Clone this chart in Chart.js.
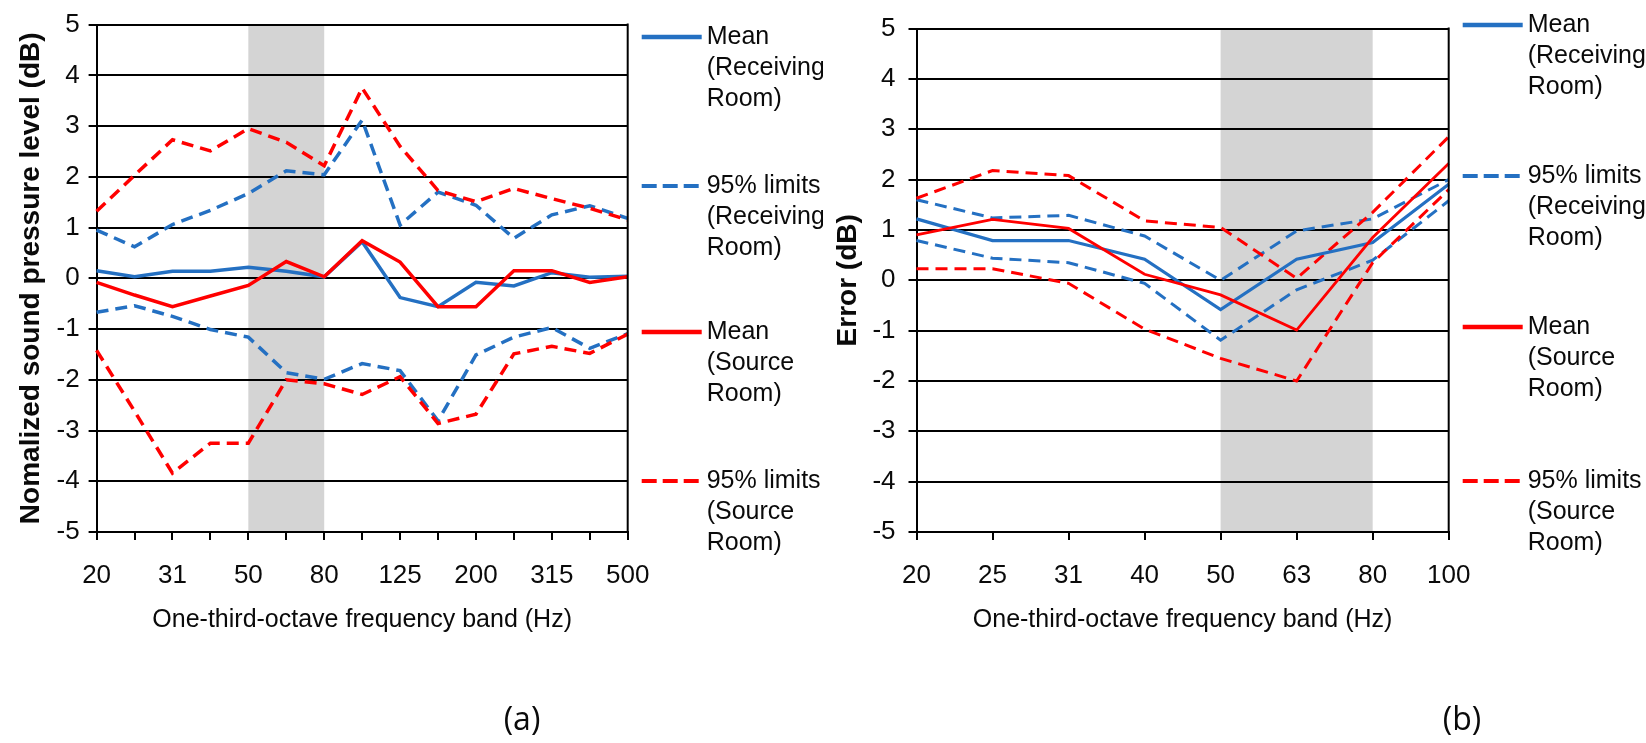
<!DOCTYPE html>
<html>
<head>
<meta charset="utf-8">
<script src="https://cdn.jsdelivr.net/npm/chart.js@4.4.1/dist/chart.umd.min.js"></script>
<style>
  html, body { margin: 0; padding: 0; background: #fff; }
  #wrap { position: relative; width: 1646px; height: 743px; }
  .panel { position: absolute; top: 0; width: 823px; height: 743px; }
</style>
</head>
<body>
<div id="wrap">
  <div class="panel" style="left:0"><canvas id="chartA" width="823" height="743"></canvas></div>
  <div class="panel" style="left:823px"><canvas id="chartB" width="823" height="743"></canvas></div>
</div>
<script>
  // (a) 15 one-third-octave bands, 20-500 Hz
  var bandsA = ['20', '25', '31.5', '40', '50', '63', '80', '100', '125', '160', '200', '250', '315', '400', '500'];
  var tickLabelsA = ['20', '', '31', '', '50', '', '80', '', '125', '', '200', '', '315', '', '500'];
  var recvMeanA = [0.15, 0.03, 0.14, 0.14, 0.22, 0.14, 0.03, 0.72, -0.38, -0.56, -0.08, -0.15, 0.11, 0.02, 0.04];
  var recvUpA   = [0.95, 0.62, 1.06, 1.34, 1.67, 2.12, 2.04, 3.12, 1.05, 1.70, 1.44, 0.79, 1.25, 1.43, 1.18];
  var recvLoA   = [-0.67, -0.54, -0.75, -1.01, -1.16, -1.86, -1.99, -1.68, -1.82, -2.81, -1.51, -1.16, -0.97, -1.38, -1.09];
  var srcMeanA  = [-0.08, -0.33, -0.56, -0.35, -0.14, 0.33, 0.03, 0.74, 0.32, -0.56, -0.56, 0.15, 0.15, -0.08, 0.03];
  var srcUpA    = [1.32, 2.03, 2.73, 2.51, 2.95, 2.68, 2.22, 3.75, 2.60, 1.73, 1.51, 1.77, 1.57, 1.38, 1.15];
  var srcLoA    = [-1.42, -2.62, -3.84, -3.25, -3.25, -2.00, -2.08, -2.29, -1.94, -2.86, -2.68, -1.49, -1.34, -1.48, -1.10];

  // (b) 8 bands, 20-100 Hz
  var bandsB = ['20', '25', '31', '40', '50', '63', '80', '100'];
  var tickLabelsB = ['20', '25', '31', '40', '50', '63', '80', '100'];
  var recvMeanB = [1.22, 0.79, 0.79, 0.42, -0.58, 0.42, 0.75, 1.91];
  var recvUpB   = [1.60, 1.24, 1.29, 0.88, 0.00, 0.98, 1.22, 2.00];
  var recvLoB   = [0.79, 0.44, 0.35, -0.06, -1.19, -0.19, 0.40, 1.58];
  var srcMeanB  = [0.90, 1.21, 1.03, 0.12, -0.29, -0.99, 0.85, 2.32];
  var srcUpB    = [1.63, 2.18, 2.08, 1.18, 1.05, 0.04, 1.35, 2.85];
  var srcLoB    = [0.23, 0.23, -0.06, -0.97, -1.55, -2.00, 0.35, 1.80];

  var legendNames = ['Mean\n(Receiving\nRoom)', '95% limits\n(Receiving\nRoom)', 'Mean\n(Source\nRoom)', '95% limits\n(Source\nRoom)'];

  var BLUE = '#2470c2';
  var RED = '#ff0000';
  var INK = '#0a0a0a';
  var FONT = '"Liberation Sans", Arial, sans-serif';

  Chart.defaults.font.family = FONT;
  Chart.defaults.color = INK;

  // grey frequency band behind the grid
  var shadeBand = {
    id: 'shadeBand',
    beforeDraw: function(chart, args, opts) {
      var x = chart.scales.x, a = chart.chartArea, ctx = chart.ctx;
      var x0 = x.getPixelForValue(opts.from), x1 = x.getPixelForValue(opts.to);
      ctx.save();
      ctx.fillStyle = '#d4d4d4';
      ctx.fillRect(x0, a.top, x1 - x0, a.bottom - a.top);
      ctx.restore();
    }
  };

  // right frame, side legend and panel letter
  var sideLegend = {
    id: 'sideLegend',
    afterDraw: function(chart, args, opts) {
      var ctx = chart.ctx, a = chart.chartArea;
      ctx.save();
      ctx.strokeStyle = '#000';
      ctx.lineWidth = 2;
      ctx.beginPath();
      ctx.moveTo(a.right, a.top - 1);
      ctx.lineTo(a.right, a.bottom + 1);
      ctx.stroke();

      ctx.font = '25px ' + FONT;
      ctx.textBaseline = 'middle';
      ctx.textAlign = 'left';
      chart.data.datasets.forEach(function(ds) {
        if (ds.legendRow === undefined) return;
        var y = opts.rows[ds.legendRow];
        var x0 = a.right + 14;
        ctx.strokeStyle = ds.borderColor;
        ctx.lineWidth = ds.borderDash.length ? 4 : 4.5;
        ctx.setLineDash(ds.borderDash.length ? [15, 6] : []);
        ctx.beginPath();
        ctx.moveTo(x0, y);
        ctx.lineTo(x0 + 60, y);
        ctx.stroke();
        ctx.setLineDash([]);
        ctx.fillStyle = INK;
        legendNames[ds.legendRow].split('\n').forEach(function(line, k) {
          ctx.fillText(line, x0 + 65, y + k * 31);
        });
      });

      ctx.font = '32px "Open Sans", sans-serif';
      ctx.textAlign = 'center';
      ctx.fillStyle = INK;
      ctx.fillText(opts.panel, opts.panelX, 721);
      ctx.restore();
    }
  };

  function series(data, color, dashed, width, row, order) {
    var ds = {
      data: data,
      borderColor: color,
      borderWidth: width,
      borderDash: dashed ? [12, 7] : [],
      pointRadius: 0,
      tension: 0,
      fill: false,
      order: order
    };
    if (row !== null) ds.legendRow = row;
    return ds;
  }

  function makeChart(id, labels, tickLabels, sets, o) {
    return new Chart(document.getElementById(id), {
      type: 'line',
      data: { labels: labels, datasets: sets },
      options: {
        responsive: false,
        animation: false,
        layout: { padding: { left: 0, top: 21, right: o.padRight, bottom: 101 } },
        plugins: {
          legend: { display: false },
          tooltip: { enabled: false },
          shadeBand: { from: 4, to: 6 },
          sideLegend: { rows: o.rows, panel: o.panel, panelX: o.panelX }
        },
        scales: {
          x: {
            offset: false,
            grid: { display: true, drawOnChartArea: false, drawTicks: true, tickLength: 8, color: '#000', lineWidth: 2 },
            border: { display: true, color: '#000', width: 2 },
            ticks: {
              autoSkip: false, maxRotation: 0, padding: 20, color: INK,
              font: { size: 26 },
              callback: function(v, i) { return tickLabels[i]; }
            },
            title: {
              display: true, text: 'One-third-octave frequency band (Hz)', color: INK,
              font: { size: 25 }, padding: { top: 0, bottom: 7 }
            },
            afterFit: function(s) { s.height = 110; }
          },
          y: {
            min: -5, max: 5,
            ticks: { stepSize: 1, padding: o.tickPad, color: INK, font: { size: 26 } },
            grid: { color: '#000', lineWidth: 2, tickLength: 8 },
            border: { display: true, color: '#000', width: 2 },
            title: {
              display: true, text: o.yTitle, color: INK,
              font: { size: 28, weight: 'bold' }, padding: { top: o.titlePad, bottom: 0 }
            },
            afterFit: function(s) { s.width = o.yWidth; }
          }
        }
      },
      plugins: [shadeBand, sideLegend]
    });
  }

  makeChart('chartA', bandsA, tickLabelsA, [
    series(srcMeanA, RED, false, 3.5, 2, 1),
    series(recvMeanA, BLUE, false, 3.5, 0, 2),
    series(srcUpA, RED, true, 3.5, 3, 3),
    series(srcLoA, RED, true, 3.5, null, 3),
    series(recvUpA, BLUE, true, 3.5, 1, 4),
    series(recvLoA, BLUE, true, 3.5, null, 4)
  ], {
    padRight: 195.3, yWidth: 96.6, tickPad: 9, titlePad: 14,
    yTitle: 'Nomalized sound pressure level (dB)',
    rows: [37, 186, 332, 481], panel: '(a)', panelX: 522
  });

  makeChart('chartB', bandsB, tickLabelsB, [
    series(srcMeanB, RED, false, 2.8, 2, 1),
    series(recvMeanB, BLUE, false, 3.2, 0, 2),
    series(srcUpB, RED, true, 3, 3, 3),
    series(srcLoB, RED, true, 3, null, 3),
    series(recvUpB, BLUE, true, 3, 1, 4),
    series(recvLoB, BLUE, true, 3, null, 4)
  ], {
    padRight: 197.3, yWidth: 93.5, tickPad: 13, titlePad: 8,
    yTitle: 'Error (dB)',
    rows: [25, 176, 327, 481], panel: '(b)', panelX: 639
  });
</script>
</body>
</html>
